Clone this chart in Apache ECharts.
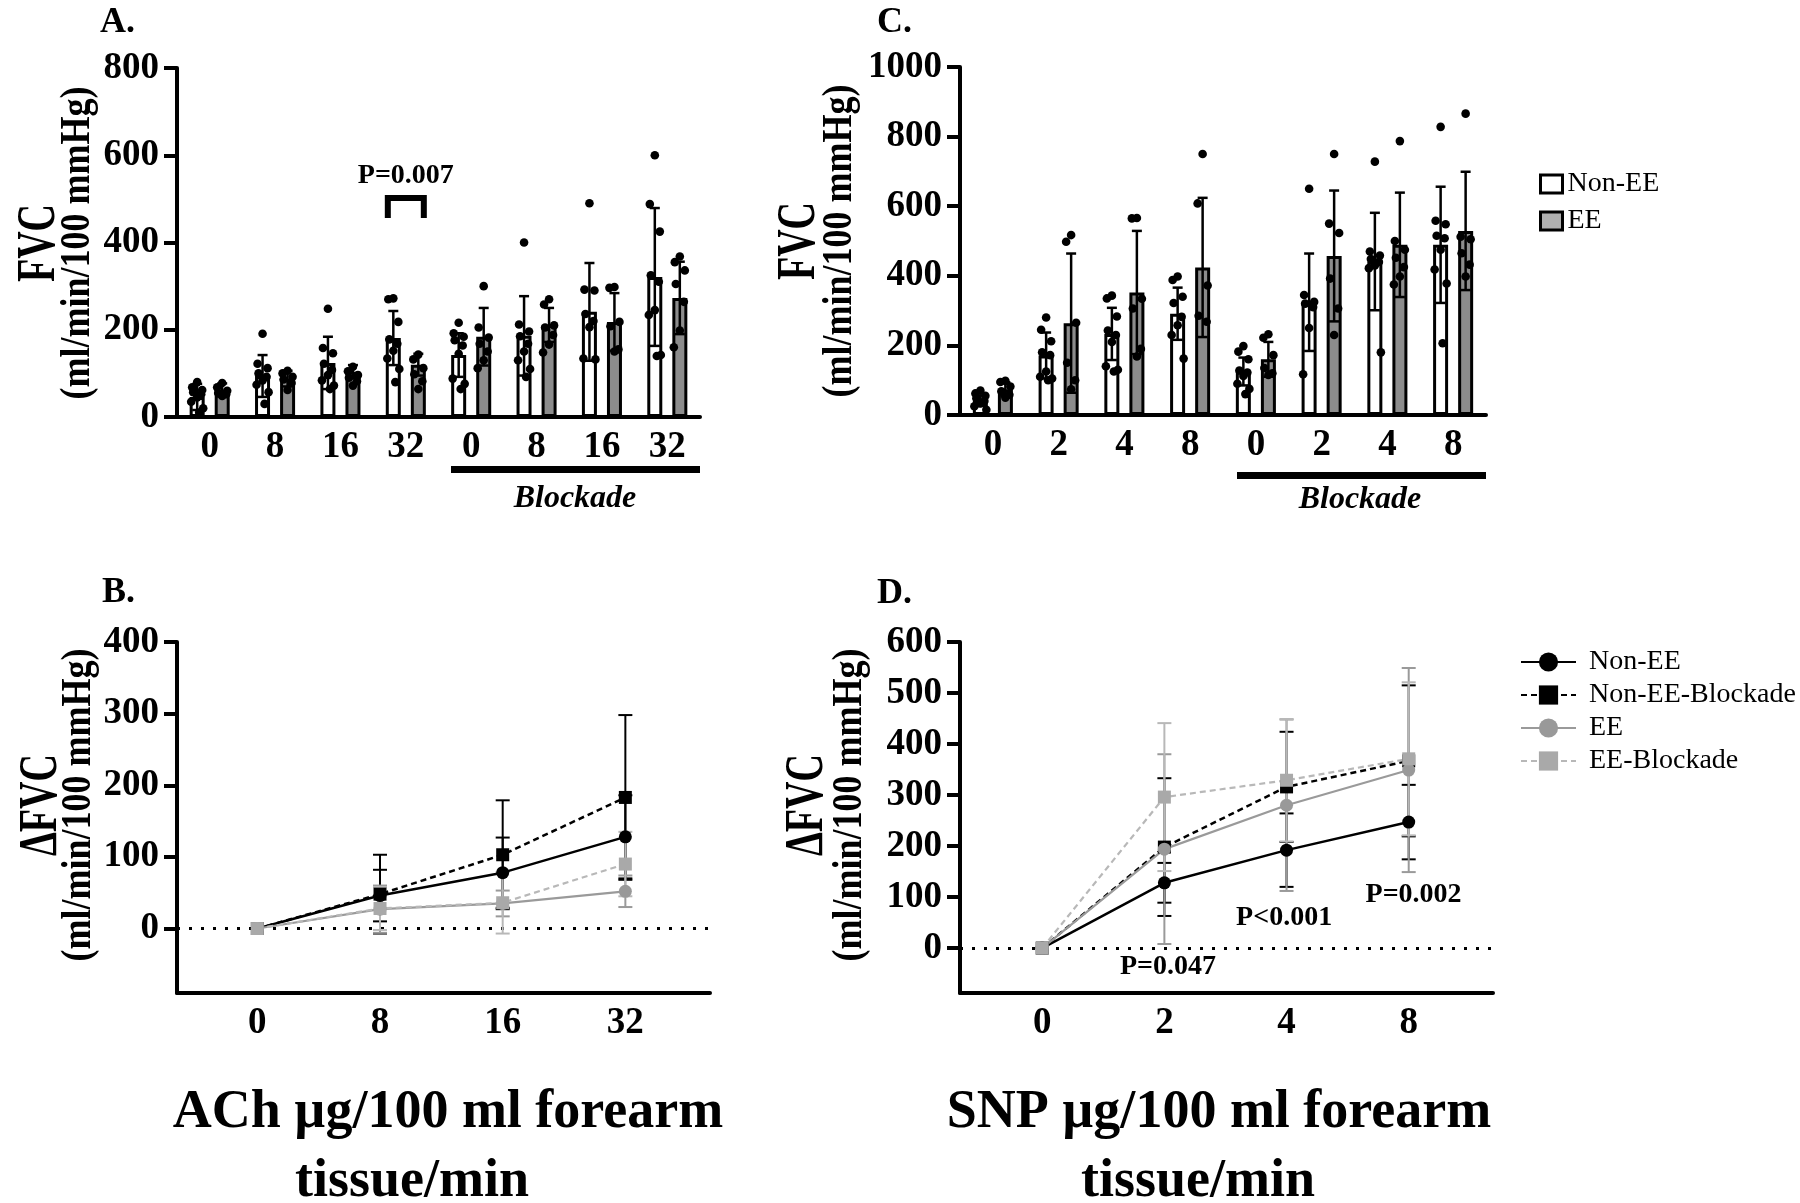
<!DOCTYPE html>
<html>
<head>
<meta charset="utf-8">
<script src="https://cdn.jsdelivr.net/npm/echarts@6/dist/echarts.min.js"></script>
<style>
  html, body { margin: 0; padding: 0; background: #fff; }
  #top { position: absolute; left: 0; top: 0; width: 1800px; height: 540px; }
  #bottom { position: absolute; left: 0; top: 540px; width: 1800px; height: 663px; }
</style>
</head>
<body>
<div id="top"></div>
<div id="bottom"></div>
<script>
const SERIF = '"Liberation Serif", "Times New Roman", serif';

// ---- panel A: FVC during ACh infusion (bars = mean, whiskers = SD, dots = subjects)
const achBarLabels = ['0', '8', '16', '32', '0', '8', '16', '32'];
const achNonEEMean = [46, 94, 124, 181, 142, 186, 241, 321];
const achNonEESd = [30, 48, 60, 62, 50, 91, 112, 158];
const achEEMean = [62, 88, 104, 120, 184, 211, 218, 273];
const achEESd = [15, 18, 15, 25, 66, 39, 66, 83];
const achNonEEPts = [
  [80, 68, 62, 57, 52, 45, 35, 20, 10],
  [191, 122, 112, 100, 92, 84, 74, 57, 30],
  [248, 158, 146, 122, 108, 96, 84, 72, 64],
  [272, 270, 218, 178, 168, 152, 134, 110, 80],
  [216, 192, 184, 176, 164, 145, 88, 76, 64],
  [400, 212, 196, 185, 168, 150, 130, 110, 92],
  [490, 292, 290, 236, 220, 206, 134, 132],
  [600, 488, 425, 325, 310, 245, 234, 142, 140]
];
const achEEPts = [
  [78, 68, 60, 55, 52, 48],
  [106, 100, 92, 86, 78, 62],
  [115, 105, 96, 90, 82, 72],
  [143, 132, 112, 98, 82, 64],
  [300, 205, 182, 168, 150, 130, 112],
  [270, 258, 210, 205, 188, 166, 148],
  [298, 296, 218, 208, 155, 150],
  [368, 355, 336, 305, 264, 198, 160]
];

// ---- panel C: FVC during SNP infusion
const snpBarLabels = ['0', '2', '4', '8', '0', '2', '4', '8'];
const snpNonEEMean = [41, 171, 233, 291, 125, 324, 441, 489];
const snpNonEESd = [15, 66, 75, 75, 40, 140, 140, 167];
const snpEEMean = [74, 264, 352, 424, 160, 457, 489, 529];
const snpEESd = [20, 200, 177, 200, 50, 188, 150, 170];
const snpNonEEPts = [
  [70, 62, 55, 48, 40, 33, 25, 15],
  [280, 245, 212, 180, 172, 125, 110, 105, 100],
  [343, 335, 283, 243, 230, 210, 140, 130, 125],
  [398, 388, 340, 322, 282, 258, 230, 162],
  [198, 182, 160, 128, 122, 112, 90, 75, 60],
  [650, 345, 325, 320, 310, 250, 117],
  [728, 470, 458, 448, 440, 430, 422, 180],
  [828, 558, 548, 515, 508, 475, 418, 378, 206]
];
const snpEEPts = [
  [98, 95, 82, 68, 58, 50],
  [517, 498, 265, 150, 100, 74],
  [566, 565, 334, 306, 190, 168],
  [750, 608, 372, 285, 268],
  [232, 222, 172, 135, 120, 115],
  [750, 550, 523, 392, 306, 230],
  [787, 500, 475, 452, 425, 398, 375],
  [866, 512, 505, 465, 432, 398]
];

// ---- panel B: change in FVC, ACh
const achDoses = ['0', '8', '16', '32'];
const achNonEE = [0, 46, 78, 128];
const achNonEEErr = [0, 36, 49, 58];
const achNonEEBlk = [0, 48, 103, 183];
const achNonEEBlkErr = [0, 55, 76, 115];
const achEE = [0, 27, 35, 52];
const achEEErr = [0, 33, 18, 22];
const achEEBlk = [0, 28, 36, 90];
const achEEBlkErr = [0, 30, 43, 45];

// ---- panel D: change in FVC, SNP
const snpDoses = ['0', '2', '4', '8'];
const snpNonEE = [0, 128, 192, 247];
const snpNonEEErr = [0, 39, 72, 73];
const snpNonEEBlk = [0, 198, 316, 367];
const snpNonEEBlkErr = [0, 135, 108, 148];
const snpEE = [0, 194, 280, 349];
const snpEEErr = [0, 186, 168, 200];
const snpEEBlk = [0, 296, 329, 371];
const snpEEBlkErr = [0, 145, 120, 150];
const snpPValues = [
  { x: 1.03, y: -36, text: 'P=0.047' },
  { x: 1.98, y: 60, text: 'P<0.001' },
  { x: 3.04, y: 105, text: 'P=0.002' }
];

const JITTER = [0, -5, 5, -4, 4, 0, -6, 6, 2];
const BAR_OFFSET = 12.5;

const tickLabel = { fontFamily: SERIF, fontSize: 37, fontWeight: 'bold', color: '#000' };
const axisLine = { show: true, onZero: false, lineStyle: { color: '#000', width: 4 } };

function flattenPoints(groups) {
  const out = [];
  groups.forEach((g, i) => g.forEach((v, k) => out.push([i, v, k])));
  return out;
}

function pointsSeries(gi, groups, offset) {
  return {
    type: 'custom', xAxisIndex: gi, yAxisIndex: gi, z: 6, silent: true,
    data: flattenPoints(groups),
    renderItem(params, api) {
      const p = api.coord([api.value(0), api.value(1)]);
      const j = JITTER[api.value(2) % JITTER.length];
      return { type: 'circle', shape: { cx: p[0] + offset + j, cy: p[1], r: 4.3 }, style: { fill: '#000' } };
    }
  };
}

function errorSeries(gi, means, sds, offset, color, lw, cap, z) {
  return {
    type: 'custom', xAxisIndex: gi, yAxisIndex: gi, z: z, silent: true,
    data: means.map((m, i) => [i, m - sds[i], m + sds[i]]),
    renderItem(params, api) {
      if (api.value(1) === api.value(2)) return null;
      const lo = api.coord([api.value(0), api.value(1)]);
      const hi = api.coord([api.value(0), api.value(2)]);
      const x = lo[0] + offset;
      const st = { stroke: color, lineWidth: lw };
      return {
        type: 'group',
        children: [
          { type: 'line', shape: { x1: x, y1: lo[1], x2: x, y2: hi[1] }, style: st },
          { type: 'line', shape: { x1: x - cap, y1: hi[1], x2: x + cap, y2: hi[1] }, style: st },
          { type: 'line', shape: { x1: x - cap, y1: lo[1], x2: x + cap, y2: lo[1] }, style: st }
        ]
      };
    }
  };
}

// rotated two-line axis title; the original figure is stretched sideways, hence scaleY
function axisTitle(x1, x2, yMid, big, small) {
  return [
    { type: 'text', x: x1, y: yMid, rotation: Math.PI / 2, scaleY: 1.45,
      style: { text: big, fill: '#000', font: 'bold 38px ' + SERIF, align: 'center', verticalAlign: 'middle' } },
    { type: 'text', x: x2, y: yMid, rotation: Math.PI / 2, scaleY: 1.15,
      style: { text: small, fill: '#000', font: 'bold 36px ' + SERIF, align: 'center', verticalAlign: 'middle' } }
  ];
}

function barYAxis(gi, max) {
  return {
    type: 'value', gridIndex: gi, min: 0, max: max, interval: 200,
    axisLine: axisLine,
    axisTick: { show: true, length: 13, lineStyle: { color: '#000', width: 4 } },
    axisLabel: Object.assign({ margin: 18, formatter: (v) => String(v) }, tickLabel),
    splitLine: { show: false }
  };
}

function barXAxis(gi, labels) {
  return {
    type: 'category', gridIndex: gi, data: labels,
    axisLine: axisLine, axisTick: { show: false },
    axisLabel: Object.assign({ margin: 12 }, tickLabel)
  };
}

function barSeries(gi, name, means, fill) {
  return {
    type: 'bar', name: name, xAxisIndex: gi, yAxisIndex: gi,
    data: means, barWidth: 15, barGap: '67%', z: 2,
    itemStyle: { color: fill, borderColor: '#000', borderWidth: 3 }
  };
}

const topChart = echarts.init(document.getElementById('top'));
topChart.setOption({
  animation: false,
  grid: [
    { left: 177, top: 68, width: 523, height: 349 },
    { left: 960, top: 67, width: 526, height: 348 }
  ],
  xAxis: [barXAxis(0, achBarLabels), barXAxis(1, snpBarLabels)],
  yAxis: [barYAxis(0, 800), barYAxis(1, 1000)],
  legend: {
    orient: 'vertical', left: 1534, top: 165, icon: 'rect',
    itemWidth: 22, itemHeight: 18, itemGap: 9,
    textStyle: { fontFamily: SERIF, fontSize: 28, color: '#000', lineHeight: 28 },
    data: [
      { name: 'Non-EE', itemStyle: { color: '#fff', borderColor: '#000', borderWidth: 3 } },
      { name: 'EE', itemStyle: { color: '#b0b0b0', borderColor: '#000', borderWidth: 3 } }
    ]
  },
  series: [
    barSeries(0, 'Non-EE', achNonEEMean, '#fff'),
    barSeries(0, 'EE', achEEMean, '#8c8c8c'),
    barSeries(1, 'Non-EE', snpNonEEMean, '#fff'),
    barSeries(1, 'EE', snpEEMean, '#8c8c8c'),
    errorSeries(0, achNonEEMean, achNonEESd, -BAR_OFFSET, '#000', 2.5, 5, 5),
    errorSeries(0, achEEMean, achEESd, BAR_OFFSET, '#000', 2.5, 5, 5),
    errorSeries(1, snpNonEEMean, snpNonEESd, -BAR_OFFSET, '#000', 2.5, 5, 5),
    errorSeries(1, snpEEMean, snpEESd, BAR_OFFSET, '#000', 2.5, 5, 5),
    pointsSeries(0, achNonEEPts, -BAR_OFFSET),
    pointsSeries(0, achEEPts, BAR_OFFSET),
    pointsSeries(1, snpNonEEPts, -BAR_OFFSET),
    pointsSeries(1, snpEEPts, BAR_OFFSET),
    {
      // P value bracket over the 32 group
      type: 'custom', xAxisIndex: 0, yAxisIndex: 0, z: 7, silent: true,
      data: [[3, 456, 502, 554]],
      renderItem(params, api) {
        const bot = api.coord([api.value(0), api.value(1)]);
        const top = api.coord([api.value(0), api.value(2)]);
        const txt = api.coord([api.value(0), api.value(3)]);
        const x = bot[0];
        return {
          type: 'group',
          children: [
            { type: 'polyline', shape: { points: [[x - 18, bot[1]], [x - 18, top[1]], [x + 18, top[1]], [x + 18, bot[1]]] },
              style: { stroke: '#000', lineWidth: 6, fill: null } },
            { type: 'text', x: x, y: txt[1],
              style: { text: 'P=0.007', fill: '#000', font: 'bold 28px ' + SERIF, align: 'center', verticalAlign: 'middle' } }
          ]
        };
      }
    }
  ],
  graphic: [
    { type: 'text', x: 100, y: 23, style: { text: 'A.', fill: '#000', font: 'bold 36px ' + SERIF, verticalAlign: 'middle' } },
    { type: 'text', x: 877, y: 23, style: { text: 'C.', fill: '#000', font: 'bold 36px ' + SERIF, verticalAlign: 'middle' } },
    { type: 'rect', shape: { x: 451, y: 466, width: 249, height: 7 }, style: { fill: '#000' } },
    { type: 'rect', shape: { x: 1237, y: 472, width: 249, height: 7 }, style: { fill: '#000' } },
    { type: 'text', x: 575, y: 499, style: { text: 'Blockade', fill: '#000', font: 'italic bold 32px ' + SERIF, align: 'center', verticalAlign: 'middle' } },
    { type: 'text', x: 1360, y: 500, style: { text: 'Blockade', fill: '#000', font: 'italic bold 32px ' + SERIF, align: 'center', verticalAlign: 'middle' } }
  ].concat(
    axisTitle(40, 78, 243, 'FVC', '(ml/min/100 mmHg)'),
    axisTitle(800, 840, 241, 'FVC', '(ml/min/100 mmHg)')
  )
});

// ---------- bottom row: delta FVC line charts ----------
function lineXAxis(gi, labels, min, max) {
  return {
    type: 'value', gridIndex: gi, min: min, max: max,
    axisLine: axisLine, axisTick: { show: false }, splitLine: { show: false },
    axisLabel: Object.assign({ margin: 12, customValues: [0, 1, 2, 3], formatter: (v) => labels[Math.round(v)] }, tickLabel)
  };
}

function lineYAxis(gi, min, max, ticks) {
  return {
    type: 'value', gridIndex: gi, min: min, max: max,
    axisLine: axisLine,
    axisTick: { show: true, length: 13, customValues: ticks, lineStyle: { color: '#000', width: 4 } },
    axisLabel: Object.assign({ margin: 18, customValues: ticks }, tickLabel),
    splitLine: { show: false }
  };
}

const lineStyles = {
  'Non-EE': { color: '#000', dash: 'solid', symbol: 'circle', lw: 2.5, mark: '#000' },
  'Non-EE-Blockade': { color: '#000', dash: [6, 4], symbol: 'rect', lw: 2.5, mark: '#000' },
  'EE': { color: '#9a9a9a', dash: 'solid', symbol: 'circle', lw: 2.2, mark: '#999' },
  'EE-Blockade': { color: '#b8b8b8', dash: [6, 4], symbol: 'rect', lw: 2.2, mark: '#a9a9a9' }
};

function lineSeries(gi, name, values, withZero) {
  const s = lineStyles[name];
  const out = {
    type: 'line', name: name, xAxisIndex: gi, yAxisIndex: gi, z: 4,
    data: values.map((v, i) => [i, v]),
    symbol: s.symbol, symbolSize: 13,
    lineStyle: { color: s.color, type: s.dash, width: s.lw },
    itemStyle: { color: s.mark }
  };
  if (withZero) {
    out.markLine = {
      silent: true, symbol: ['none', 'none'], label: { show: false }, z: 1,
      lineStyle: { color: '#000', type: [3, 9], width: 3 },
      data: [{ yAxis: 0 }]
    };
  }
  return out;
}

function panelLines(gi, sets) {
  const series = [];
  sets.forEach((d, k) => {
    const s = lineStyles[d.name];
    series.push(errorSeries(gi, d.values, d.err, 0, s.color, 2, 7, 3));
    series.push(lineSeries(gi, d.name, d.values, k === 0));
  });
  return series;
}

const bottomChart = echarts.init(document.getElementById('bottom'));
bottomChart.setOption({
  animation: false,
  grid: [
    { left: 177, top: 102, width: 533, height: 351 },
    { left: 960, top: 102, width: 533, height: 351 }
  ],
  xAxis: [lineXAxis(0, achDoses, -0.655, 3.69), lineXAxis(1, snpDoses, -0.673, 3.69)],
  yAxis: [
    lineYAxis(0, -90, 400, [0, 100, 200, 300, 400]),
    lineYAxis(1, -88, 600, [0, 100, 200, 300, 400, 500, 600])
  ],
  legend: {
    orient: 'vertical', left: 1515, top: 103,
    itemWidth: 55, itemHeight: 24, itemGap: 5,
    textStyle: { fontFamily: SERIF, fontSize: 28, color: '#000', lineHeight: 24, padding: [0, 0, 0, 8] },
    data: ['Non-EE', 'Non-EE-Blockade', 'EE', 'EE-Blockade']
  },
  series: [].concat(
    panelLines(0, [
      { name: 'Non-EE', values: achNonEE, err: achNonEEErr },
      { name: 'Non-EE-Blockade', values: achNonEEBlk, err: achNonEEBlkErr },
      { name: 'EE', values: achEE, err: achEEErr },
      { name: 'EE-Blockade', values: achEEBlk, err: achEEBlkErr }
    ]),
    panelLines(1, [
      { name: 'Non-EE', values: snpNonEE, err: snpNonEEErr },
      { name: 'Non-EE-Blockade', values: snpNonEEBlk, err: snpNonEEBlkErr },
      { name: 'EE', values: snpEE, err: snpEEErr },
      { name: 'EE-Blockade', values: snpEEBlk, err: snpEEBlkErr }
    ]),
    [{
      type: 'custom', xAxisIndex: 1, yAxisIndex: 1, z: 8, silent: true,
      data: snpPValues.map((p) => [p.x, p.y]),
      renderItem(params, api) {
        const c = api.coord([api.value(0), api.value(1)]);
        return { type: 'text', x: c[0], y: c[1],
          style: { text: snpPValues[params.dataIndex].text, fill: '#000', font: 'bold 28px ' + SERIF, align: 'center', verticalAlign: 'middle' } };
      }
    }]
  ),
  graphic: [
    { type: 'text', x: 102, y: 53, style: { text: 'B.', fill: '#000', font: 'bold 36px ' + SERIF, verticalAlign: 'middle' } },
    { type: 'text', x: 877, y: 54, style: { text: 'D.', fill: '#000', font: 'bold 36px ' + SERIF, verticalAlign: 'middle' } },
    { type: 'text', x: 448, y: 573, style: { text: 'ACh µg/100 ml forearm', fill: '#000', font: 'bold 54px ' + SERIF, align: 'center', verticalAlign: 'middle' } },
    { type: 'text', x: 412, y: 642, style: { text: 'tissue/min', fill: '#000', font: 'bold 54px ' + SERIF, align: 'center', verticalAlign: 'middle' } },
    { type: 'text', x: 1219, y: 573, style: { text: 'SNP µg/100 ml forearm', fill: '#000', font: 'bold 54px ' + SERIF, align: 'center', verticalAlign: 'middle' } },
    { type: 'text', x: 1198, y: 642, style: { text: 'tissue/min', fill: '#000', font: 'bold 54px ' + SERIF, align: 'center', verticalAlign: 'middle' } }
  ].concat(
    axisTitle(42, 79, 265, 'ΔFVC', '(ml/min/100 mmHg)'),
    axisTitle(808, 850, 265, 'ΔFVC', '(ml/min/100 mmHg)')
  )
});
</script>
</body>
</html>
